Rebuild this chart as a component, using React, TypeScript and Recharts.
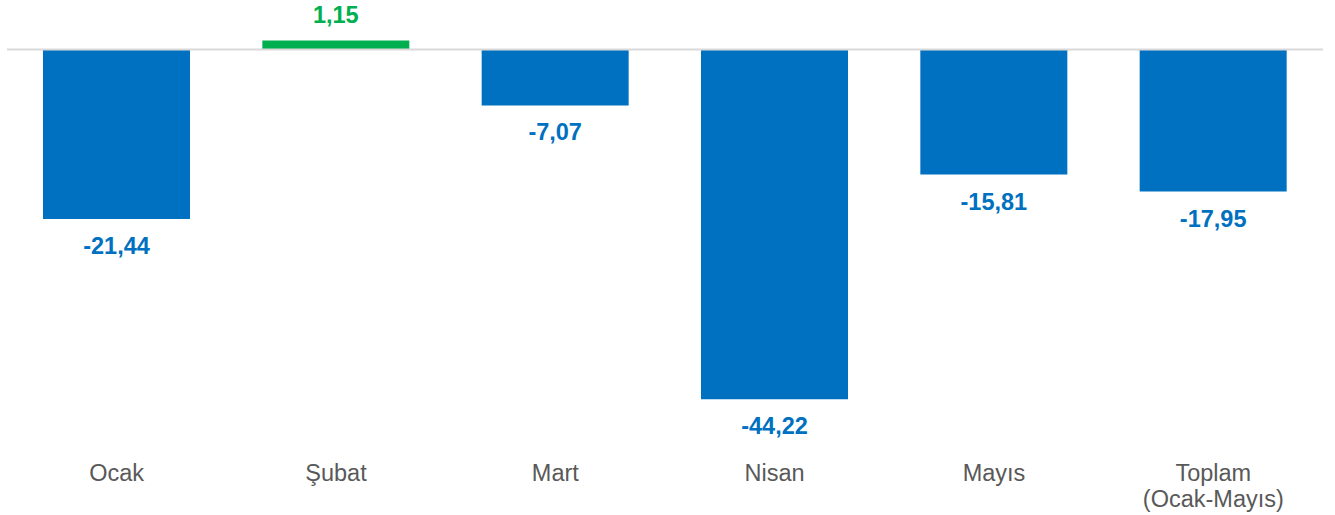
import React from "react";
import { BarChart, Bar, XAxis, YAxis, ReferenceLine, Cell, LabelList } from "recharts";

const months = ["Ocak", "Şubat", "Mart", "Nisan", "Mayıs", "Toplam\n(Ocak-Mayıs)"];
const changes = [-21.44, 1.15, -7.07, -44.22, -15.81, -17.95];

const BLUE = "#0070C0";
const GREEN = "#00B050";
const FONT = "'Liberation Sans', Arial, sans-serif";

const data = months.map((month, i) => ({ month, value: changes[i] }));

// turkish style decimal comma
const fmt = (v: number) => v.toFixed(2).replace(".", ",");

const ValueLabel = (props: any) => {
  const { x, y, width, height, value } = props;
  const top = Math.min(y, y + height);
  const bottom = Math.max(y, y + height);
  const neg = value < 0;
  return (
    <text
      x={x + width / 2}
      y={neg ? bottom + 35 : top - 17}
      textAnchor="middle"
      fill={neg ? BLUE : GREEN}
      fontFamily={FONT}
      fontWeight="bold"
      fontSize={23.5}
    >
      {fmt(value)}
    </text>
  );
};

const MonthTick = (props: any) => {
  const { x, y, payload } = props;
  const lines = String(payload.value).split("\n");
  return (
    <text
      x={x}
      y={y}
      textAnchor="middle"
      fill="#595959"
      fontFamily={FONT}
      fontSize={23.5}
    >
      {lines.map((line, i) => (
        <tspan key={i} x={x} dy={i === 0 ? 28 : 26}>
          {line}
        </tspan>
      ))}
    </text>
  );
};

const App = () => {
  return (
    <div style={{ position: "absolute", left: 0, top: 0, background: "#fff" }}>
      <BarChart
        width={1335}
        height={515}
        data={data}
        margin={{ top: 10, right: 12, left: 7, bottom: 0 }}
      >
        <XAxis
          dataKey="month"
          axisLine={false}
          tickLine={false}
          height={70}
          interval={0}
          tick={<MonthTick />}
        />
        <YAxis hide domain={[-50, 5]} />
        <ReferenceLine y={0} stroke="#d9d9d9" strokeWidth={2} />
        <Bar dataKey="value" barSize={147} isAnimationActive={false}>
          {data.map((d, i) => (
            <Cell key={i} fill={d.value < 0 ? BLUE : GREEN} />
          ))}
          <LabelList dataKey="value" content={<ValueLabel />} />
        </Bar>
      </BarChart>
    </div>
  );
};

export default App;
